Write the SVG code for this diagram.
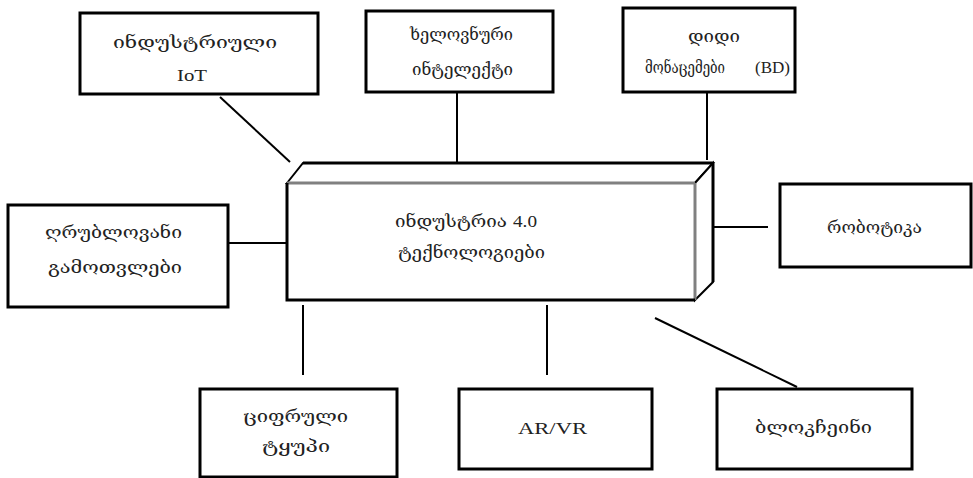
<svg xmlns="http://www.w3.org/2000/svg" width="973" height="478" viewBox="0 0 973 478">
<style>
.box{fill:#fff;stroke:#000;stroke-width:3}
.t{font-family:"Liberation Serif","DejaVu Serif",serif;font-size:17px;fill:#222}
.c{stroke:#000;stroke-width:2;fill:none}
</style>
<rect width="973" height="478" fill="#fff"/>
<g id="connectors">
<line class="c" x1="220" y1="97" x2="290" y2="162"/>
<line class="c" x1="457" y1="92" x2="457" y2="163"/>
<line class="c" x1="707" y1="92" x2="707" y2="160"/>
<line class="c" x1="228" y1="243" x2="287" y2="243"/>
<line class="c" x1="713" y1="227" x2="768" y2="227"/>
<line class="c" x1="303" y1="305" x2="303" y2="375"/>
<line class="c" x1="547" y1="305" x2="547" y2="375"/>
<line class="c" x1="655" y1="318" x2="797" y2="387"/>
</g>
<g id="center">
<polygon points="287,183 303,163 713,163 695,183" fill="#fff" stroke="#000" stroke-width="2"/>
<polygon points="695,183 713,163 713,282 695,300" fill="#fff" stroke="#000" stroke-width="2"/>
<rect x="287" y="183" width="408" height="117" fill="#fff" stroke="none"/>
<line x1="287" y1="183" x2="695" y2="183" stroke="#808080" stroke-width="3"/>
<line x1="695" y1="183" x2="695" y2="300" stroke="#808080" stroke-width="3"/>
<polyline points="287,183 287,300 695,300" fill="none" stroke="#000" stroke-width="3"/>
<line x1="303" y1="163" x2="713" y2="163" stroke="#000" stroke-width="3"/>
<line x1="713" y1="163" x2="713" y2="282" stroke="#000" stroke-width="3"/>
<text class="t" x="395" y="227" textLength="112" lengthAdjust="spacingAndGlyphs">ინდუსტრია</text>
<text class="t" x="513" y="227" textLength="24" lengthAdjust="spacingAndGlyphs">4.0</text>
<text class="t" x="398" y="258" textLength="147" lengthAdjust="spacingAndGlyphs">ტექნოლოგიები</text>
</g>
<g id="iot">
<rect class="box" x="80" y="13" width="238" height="81"/>
<text class="t" x="113" y="48" textLength="164" lengthAdjust="spacingAndGlyphs">ინდუსტრიული</text>
<text class="t" x="177" y="81" textLength="30" lengthAdjust="spacingAndGlyphs">IoT</text>
</g>
<g id="ai">
<rect class="box" x="366" y="11" width="187" height="81"/>
<text class="t" x="410" y="40" textLength="103" lengthAdjust="spacingAndGlyphs">ხელოვნური</text>
<text class="t" x="412" y="75" textLength="101" lengthAdjust="spacingAndGlyphs">ინტელექტი</text>
</g>
<g id="bd">
<rect class="box" x="623" y="8" width="172" height="84"/>
<text class="t" x="688" y="42" textLength="52" lengthAdjust="spacingAndGlyphs">დიდი</text>
<text class="t" x="645" y="73" textLength="80" lengthAdjust="spacingAndGlyphs">მონაცემები</text>
<text class="t" x="755" y="73" textLength="35" lengthAdjust="spacingAndGlyphs">(BD)</text>
</g>
<g id="cloud">
<rect class="box" x="8" y="205" width="220" height="102"/>
<text class="t" x="45" y="238" textLength="137" lengthAdjust="spacingAndGlyphs">ღრუბლოვანი</text>
<text class="t" x="48" y="273" textLength="134" lengthAdjust="spacingAndGlyphs">გამოთვლები</text>
</g>
<g id="robotics">
<rect class="box" x="780" y="184" width="191" height="83"/>
<text class="t" x="827" y="233" textLength="95" lengthAdjust="spacingAndGlyphs">რობოტიკა</text>
</g>
<g id="twin">
<rect class="box" x="200" y="389" width="197" height="88"/>
<text class="t" x="243" y="422" textLength="105" lengthAdjust="spacingAndGlyphs">ციფრული</text>
<text class="t" x="262" y="452" textLength="68" lengthAdjust="spacingAndGlyphs">ტყუპი</text>
</g>
<g id="arvr">
<rect class="box" x="459" y="389" width="193" height="80"/>
<text class="t" x="518" y="434" textLength="69" lengthAdjust="spacingAndGlyphs">AR/VR</text>
</g>
<g id="blockchain">
<rect class="box" x="717" y="389" width="195" height="80"/>
<text class="t" x="755" y="433" textLength="117" lengthAdjust="spacingAndGlyphs">ბლოკჩეინი</text>
</g>
</svg>
